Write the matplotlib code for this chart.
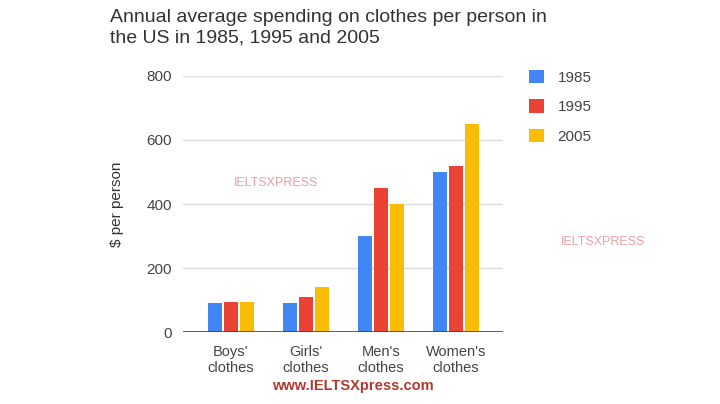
import numpy as np
import matplotlib
matplotlib.use("Agg")
import matplotlib.pyplot as plt

plt.rcParams['font.family'] = ['Liberation Sans', 'DejaVu Sans']

categories = ["Boys'\nclothes", "Girls'\nclothes", "Men's\nclothes", "Women's\nclothes"]
years = ["1985", "1995", "2005"]
spend_1985 = [90, 90, 300, 500]
spend_1995 = [95, 110, 450, 520]
spend_2005 = [95, 140, 400, 650]
colors = ['#4285F4', '#EA4335', '#FBBC04']

fig = plt.figure(figsize=(7.2, 4.04), dpi=100)
ax = fig.add_axes([0.254, 0.178, 0.445, 0.634])

x = np.arange(len(categories))
w = 0.19
for i, (vals, yr) in enumerate(zip([spend_1985, spend_1995, spend_2005], years)):
    ax.bar(x + (i - 1) * 0.21, vals, width=w, color=colors[i], label=yr, zorder=3)

ax.set_xlim(-0.64, 3.63)
ax.set_ylim(0, 800)
ax.set_yticks([0, 200, 400, 600, 800])
ax.yaxis.grid(True, color='#dddddd', linewidth=1, zorder=0)
ax.axhline(0, color='#444444', linewidth=1.2, zorder=4)
for s in ax.spines.values():
    s.set_visible(False)
ax.tick_params(axis='both', length=0, labelsize=11, colors='#444444')
ax.tick_params(axis='y', pad=8)
ax.tick_params(axis='x', pad=9)
ax.set_xticks(x)
ax.set_xticklabels(categories, fontsize=10.5, color='#444444', linespacing=1.25)
ax.set_ylabel('$ per person', fontsize=11, color='#333333', labelpad=16)

fig.text(0.153, 0.978, 'Annual average spending on clothes per person in\nthe US in 1985, 1995 and 2005',
         fontsize=14, color='#333333', va='top', ha='left', linespacing=1.3)

leg = fig.legend(loc='upper left', bbox_to_anchor=(0.715, 0.862), frameon=False,
                 fontsize=11, handlelength=1.0, handleheight=1.0, labelspacing=0.95,
                 handletextpad=0.9)
for t in leg.get_texts():
    t.set_color('#444444')

fig.text(0.49, 0.045, 'www.IELTSXpress.com', fontsize=10.5, fontweight='bold',
         color='#b03a2e', ha='center', va='center')
fig.text(0.383, 0.548, 'IELTSXPRESS', fontsize=9, color='#e8a0a8', ha='center', va='center')
fig.text(0.838, 0.4, 'IELTSXPRESS', fontsize=9, color='#e8a0a8', ha='center', va='center')

fig.savefig('out.png', dpi=100, facecolor='white')
